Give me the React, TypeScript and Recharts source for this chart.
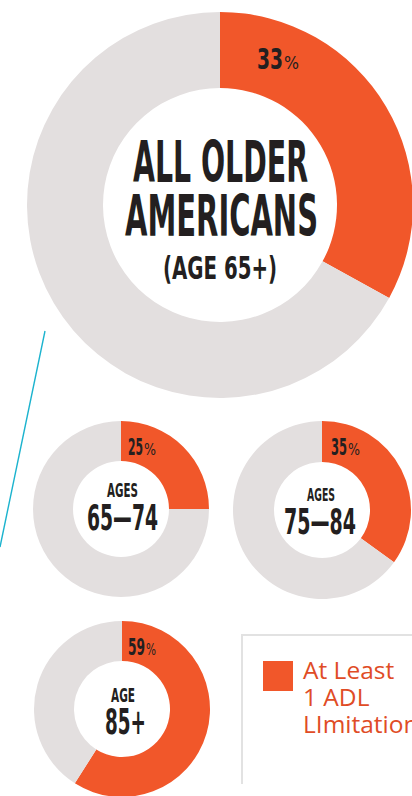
import React from 'react';
import { PieChart, Pie, Cell, Label, Legend } from 'recharts';

// ---- data ----
const categories = ['ALL OLDER AMERICANS (AGE 65+)', 'AGES 65—74', 'AGES 75—84', 'AGE 85+'];
const withLimitation = [33, 25, 35, 59];
const withoutLimitation = [67, 75, 65, 41];
const seriesNames = ['At Least 1 ADL LImitation', 'No ADL Limitation'];
const centerLines = [
  ['ALL OLDER', 'AMERICANS', '(AGE 65+)'],
  ['AGES', '65—74'],
  ['AGES', '75—84'],
  ['AGE', '85+'],
];

// ---- styling / layout ----
const ORANGE = '#F1572A';
const GRAY = '#E3DFDF';
const INK = '#231F20';
const COND = '"Liberation Sans Narrow", "DejaVu Sans Condensed", Roboto, sans-serif';

type LineStyle = { dx: number; dy: number; w: number; fs: number };
type Layout = {
  cx: number; cy: number; inner: number; outer: number;
  pct: { dx: number; dy: number; dw: number; dfs: number; pw: number; pfs: number };
  lines: LineStyle[];
};

const layouts: Layout[] = [
  {
    cx: 220, cy: 205, inner: 117, outer: 193,
    pct: { dx: 63, dy: -136, dw: 26, dfs: 29, pw: 15, pfs: 17 },
    lines: [
      { dx: 0.5, dy: -23, w: 175, fs: 57 },
      { dx: 1.5, dy: 31, w: 193, fs: 57 },
      { dx: 0, dy: 74, w: 114, fs: 32 },
    ],
  },
  {
    cx: 121, cy: 509, inner: 48, outer: 88,
    pct: { dx: 22, dy: -54, dw: 15, dfs: 23, pw: 12, pfs: 16 },
    lines: [
      { dx: 1.5, dy: -12, w: 31, fs: 19 },
      { dx: 1.5, dy: 21, w: 71, fs: 36 },
    ],
  },
  {
    cx: 322, cy: 510, inner: 48, outer: 89,
    pct: { dx: 25, dy: -55, dw: 16, dfs: 23, pw: 12, pfs: 16 },
    lines: [
      { dx: -1, dy: -9, w: 28, fs: 18 },
      { dx: -2, dy: 24, w: 72, fs: 35 },
    ],
  },
  {
    cx: 122, cy: 709, inner: 48, outer: 88,
    pct: { dx: 23, dy: -54, dw: 17, dfs: 23, pw: 10, pfs: 16 },
    lines: [
      { dx: 1, dy: -7, w: 24, fs: 19 },
      { dx: 3.5, dy: 25, w: 41, fs: 35 },
    ],
  },
];

const pieData = categories.map((c, i) => [
  { name: seriesNames[0], group: c, value: withLimitation[i] },
  { name: seriesNames[1], group: c, value: withoutLimitation[i] },
]);

function makeCenter(i: number) {
  return (props: any) => {
    const L = layouts[i];
    const vb = props && props.viewBox ? props.viewBox : {};
    const cx = typeof vb.cx === 'number' ? vb.cx : L.cx;
    const cy = typeof vb.cy === 'number' ? vb.cy : L.cy;
    const p = L.pct;
    return (
      <g>
        <text
          x={cx + p.dx - p.dw}
          y={cy + p.dy}
          fontFamily={COND}
          fontWeight={700}
          fontSize={p.dfs}
          fill={INK}
          textLength={p.dw}
          lengthAdjust="spacingAndGlyphs"
        >
          {String(withLimitation[i])}
        </text>
        <text
          x={cx + p.dx + 1}
          y={cy + p.dy}
          fontFamily={COND}
          fontWeight={400}
          fontSize={p.pfs}
          fill={INK}
          textLength={p.pw}
          lengthAdjust="spacingAndGlyphs"
        >
          %
        </text>
        {centerLines[i].map((t, k) => {
          const s = L.lines[k];
          return (
            <text
              key={k}
              x={cx + s.dx - s.w / 2}
              y={cy + s.dy}
              fontFamily={COND}
              fontWeight={700}
              fontSize={s.fs}
              fill={INK}
              textLength={s.w}
              lengthAdjust="spacingAndGlyphs"
            >
              {t}
            </text>
          );
        })}
      </g>
    );
  };
}

const renderLegend = () => (
  <div
    style={{
      width: 200,
      height: 150,
      borderTop: '2px solid #E2E2E2',
      borderLeft: '2px solid #E2E2E2',
      boxSizing: 'border-box',
      position: 'relative',
    }}
  >
    <div
      style={{
        position: 'absolute',
        left: 20,
        top: 25,
        width: 30,
        height: 30,
        background: ORANGE,
      }}
    />
    <div
      style={{
        position: 'absolute',
        left: 60,
        top: 20,
        fontFamily: '"Open Sans", sans-serif',
        fontSize: 24.5,
        lineHeight: '27px',
        color: '#E04C26',
        whiteSpace: 'nowrap',
        textAlign: 'left',
      }}
    >
      At Least
      <br />1 ADL
      <br />LImitation
    </div>
  </div>
);

export default function App() {
  return (
    <div
      style={{
        position: 'absolute',
        left: 0,
        top: 0,
        width: 412,
        height: 796,
        overflow: 'hidden',
        background: '#FFFFFF',
      }}
    >
      <svg
        width={412}
        height={796}
        style={{ position: 'absolute', left: 0, top: 0 }}
      >
        <line x1={45} y1={331} x2={0} y2={547} stroke="#1BB3CE" strokeWidth={1.4} />
      </svg>
      <div style={{ position: 'absolute', left: 0, top: 0 }}>
        <PieChart width={412} height={796} margin={{ top: 0, right: 0, bottom: 0, left: 0 }}>
          {pieData.map((d, i) => (
            <Pie
              key={i}
              data={d}
              dataKey="value"
              nameKey="name"
              cx={layouts[i].cx}
              cy={layouts[i].cy}
              innerRadius={layouts[i].inner}
              outerRadius={layouts[i].outer}
              startAngle={90}
              endAngle={-270}
              stroke="none"
              isAnimationActive={false}
            >
              {d.map((_, k) => (
                <Cell key={k} fill={k === 0 ? ORANGE : GRAY} />
              ))}
              <Label position="center" content={makeCenter(i)} />
            </Pie>
          ))}
          <Legend
            content={renderLegend}
            wrapperStyle={{ position: 'absolute', left: 241, top: 634, width: 200, height: 150 }}
          />
        </PieChart>
      </div>
    </div>
  );
}
